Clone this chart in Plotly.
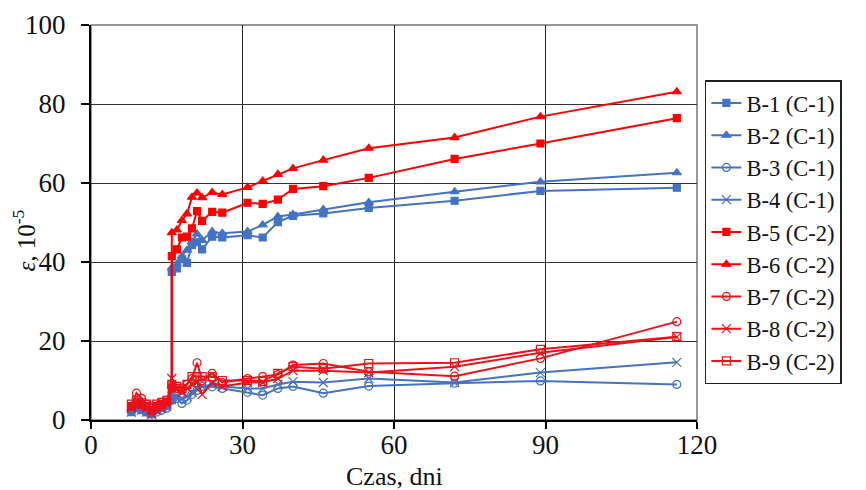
import plotly.graph_objects as go

days_low = [8, 9, 10, 11, 12, 13, 14, 15, 16, 17, 18, 19, 20, 21, 22, 24, 26, 31, 34, 37, 40, 46, 55, 72, 89, 116]
days_high = [8, 9, 10, 11, 12, 13, 14, 15, 16, 16, 17, 18, 19, 20, 21, 22, 24, 26, 31, 34, 37, 40, 46, 55, 72, 89, 116]

b1 = [2.0, 3.0, 2.5, 2.0, 1.5, 2.5, 3.0, 3.5, 5.0, 37.5, 38.4, 40.7, 39.8, 44.3, 45.0, 43.2, 46.4, 46.2, 46.8, 46.2, 50.1, 51.7, 52.3, 53.7, 55.5, 58.0, 58.8]
b2 = [2.5, 3.5, 3.0, 2.5, 2.0, 3.0, 3.5, 4.0, 5.5, 38.5, 39.5, 41.4, 43.0, 45.1, 47.1, 45.5, 47.7, 47.3, 47.7, 49.4, 51.5, 52.0, 53.3, 55.1, 57.8, 60.3, 62.6]
b3 = [2.5, 3.5, 3.0, 2.0, 1.5, 2.0, 2.5, 3.0, 5.0, 5.5, 4.2, 5.0, 6.5, 7.5, 8.5, 8.4, 8.0, 7.0, 6.3, 8.0, 8.5, 6.8, 8.6, 9.3, 9.9, 9.0]
b4 = [2.0, 3.0, 2.5, 2.0, 1.5, 2.5, 3.0, 3.5, 6.0, 6.0, 5.5, 6.0, 7.0, 8.0, 8.5, 9.0, 8.5, 8.0, 8.0, 9.0, 9.7, 9.5, 10.5, 9.5, 12.0, 14.6]
b5 = [3.5, 4.5, 4.0, 3.5, 2.5, 3.5, 4.0, 4.5, 8.0, 41.5, 43.2, 46.2, 46.4, 48.5, 52.9, 50.4, 52.7, 52.5, 55.0, 54.7, 55.8, 58.5, 59.2, 61.3, 66.1, 70.0, 76.4]
b6 = [3.0, 4.0, 3.5, 3.0, 2.0, 3.0, 3.5, 4.5, 8.5, 47.4, 48.1, 50.5, 52.2, 56.4, 57.5, 56.3, 57.6, 57.1, 58.9, 60.5, 62.2, 63.7, 65.8, 68.8, 71.5, 76.8, 83.1]
b7 = [3.5, 6.8, 5.5, 4.0, 2.5, 3.5, 4.5, 5.0, 8.5, 8.0, 7.5, 9.0, 10.5, 14.5, 10.0, 11.8, 9.5, 10.5, 11.0, 11.5, 13.9, 14.3, 12.2, 11.1, 15.6, 24.9]
b8 = [3.0, 4.5, 4.0, 3.0, 1.5, 2.5, 3.0, 4.0, 10.5, 8.0, 7.0, 8.0, 9.0, 9.5, 6.5, 9.5, 8.5, 9.5, 9.5, 10.5, 12.5, 12.5, 12.0, 13.5, 17.0, 21.0]
b9 = [4.0, 5.0, 4.5, 4.0, 3.0, 4.0, 4.5, 5.0, 9.0, 8.5, 8.0, 9.0, 11.0, 11.0, 11.0, 11.0, 10.0, 10.0, 9.8, 11.8, 13.5, 13.0, 14.3, 14.5, 17.9, 21.1]

x_ticks = [0, 30, 60, 90, 120]
y_ticks = [0, 20, 40, 60, 80, 100]

BLUE = "#4472C4"
RED = "#FF0000"
RED2 = "#E8141A"

series = [
    ("B-1 (C-1)", days_high, b1, BLUE, "square", 7),
    ("B-2 (C-1)", days_high, b2, BLUE, "triangle-up", 8),
    ("B-3 (C-1)", days_low, b3, BLUE, "circle-open", 8),
    ("B-4 (C-1)", days_low, b4, BLUE, "x-thin-open", 9),
    ("B-5 (C-2)", days_high, b5, RED, "square", 7),
    ("B-6 (C-2)", days_high, b6, RED, "triangle-up", 8),
    ("B-7 (C-2)", days_low, b7, RED2, "circle-open", 8),
    ("B-8 (C-2)", days_low, b8, RED2, "x-thin-open", 9),
    ("B-9 (C-2)", days_low, b9, RED2, "square-open", 8),
]

fig = go.Figure()
for name, xs, ys, col, sym, sz in series:
    fig.add_trace(go.Scatter(
        x=xs, y=ys, name=name, mode="lines+markers",
        line=dict(color=col, width=2),
        marker=dict(symbol=sym, size=sz, color=col, line=dict(color=col, width=1.2)),
    ))

FONT = "Liberation Serif"
fig.update_layout(
    width=866, height=490,
    margin=dict(l=91, r=169, t=25, b=70),
    paper_bgcolor="white", plot_bgcolor="white",
    font=dict(family=FONT, size=26, color="#111"),
    showlegend=True,
    legend=dict(
        x=1.013, y=0.86, xanchor="left", yanchor="top",
        bordercolor="#222", borderwidth=1.5,
        font=dict(family=FONT, size=22.5, color="#111"),
        tracegroupgap=0, itemwidth=30,
    ),
    xaxis=dict(
        range=[0, 120], tickvals=x_ticks, ticktext=[str(v) for v in x_ticks],
        showgrid=True, gridcolor="#222", gridwidth=1,
        showline=True, linecolor="#000", linewidth=2, mirror=False,
        ticks="outside", ticklen=7, tickwidth=2, tickcolor="#000",
        tickfont=dict(family=FONT, size=27), ticklabelstandoff=-7,
        zeroline=False, automargin=False,
    ),
    yaxis=dict(
        range=[0, 100], tickvals=y_ticks, ticktext=[str(v) for v in y_ticks],
        showgrid=True, gridcolor="#333", gridwidth=1,
        showline=True, linecolor="#000", linewidth=2, mirror=False,
        ticks="outside", ticklen=8, tickwidth=2, tickcolor="#000",
        tickfont=dict(family=FONT, size=27), ticklabelstandoff=10,
        zeroline=False, automargin=False,
    ),
    annotations=[
        dict(
            text="<i>ε</i>, 10<sup>-5</sup>", xref="paper", yref="paper",
            x=-0.11, y=0.455, xanchor="center", yanchor="middle",
            textangle=-90, showarrow=False, font=dict(family=FONT, size=25, color="#111"),
        ),
        dict(
            text="Czas, dni", xref="paper", yref="paper",
            x=0.5, y=-0.143, xanchor="center", yanchor="middle",
            showarrow=False, font=dict(family=FONT, size=26, color="#111"),
        ),
    ],
    shapes=[dict(type="rect", xref="paper", yref="paper", x0=0, y0=0, x1=1, y1=1,
                 line=dict(color="#777", width=1.5), layer="below")],
)

fig.write_html("out.html")
